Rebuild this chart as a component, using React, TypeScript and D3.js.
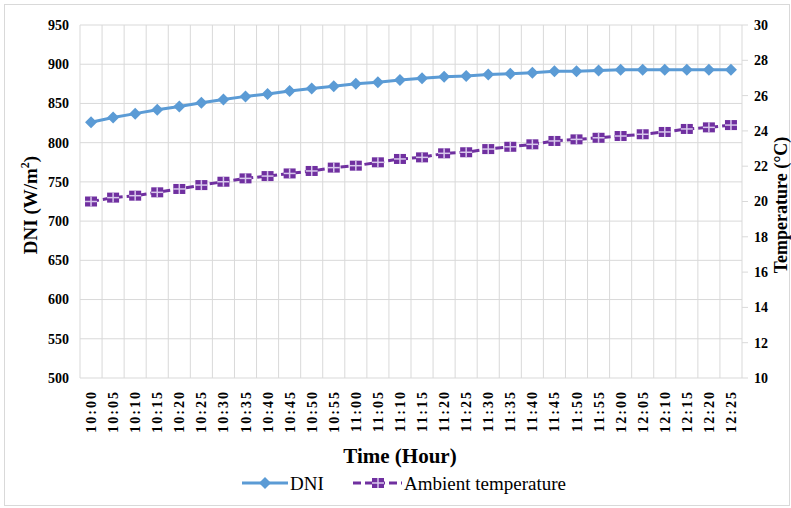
import React from 'react';
import * as d3 from 'd3';

// time of day (x categories)
const times = [
  '10:00', '10:05', '10:10', '10:15', '10:20', '10:25', '10:30', '10:35', '10:40', '10:45',
  '10:50', '10:55', '11:00', '11:05', '11:10', '11:15', '11:20', '11:25', '11:30', '11:35',
  '11:40', '11:45', '11:50', '11:55', '12:00', '12:05', '12:10', '12:15', '12:20', '12:25',
];
// DNI, W/m2 (left axis)
const dni = [
  826, 832, 837, 842, 846, 851, 855, 859, 862, 866,
  869, 872, 875, 877, 880, 882, 884, 885, 887, 888,
  889, 891, 891, 892, 893, 893, 893, 893, 893, 893,
];
// ambient temperature, °C (right axis)
const temp = [
  20.0, 20.22, 20.33, 20.52, 20.71, 20.93, 21.12, 21.31, 21.44, 21.59,
  21.73, 21.92, 22.03, 22.22, 22.41, 22.5, 22.73, 22.79, 22.97, 23.1,
  23.24, 23.43, 23.52, 23.61, 23.71, 23.81, 23.94, 24.11, 24.2, 24.33,
];
const leftTicks = [500, 550, 600, 650, 700, 750, 800, 850, 900, 950];
const rightTicks = [10, 12, 14, 16, 18, 20, 22, 24, 26, 28, 30];

const W = 791, H = 508;
const left = 80, right = 742, top = 25, bottom = 378;
const blue = '#5b9bd5';
const purple = '#7030a0';
const grid = '#d9d9d9';
const serif = '"Liberation Serif", "Times New Roman", serif';

export default function App() {
  const x = d3.scaleBand<string>().domain(times).range([left, right]);
  const yL = d3.scaleLinear().domain([500, 950]).range([bottom, top]);
  const yR = d3.scaleLinear().domain([10, 30]).range([bottom, top]);
  const cx = (t: string) => (x(t) as number) + x.bandwidth() / 2;

  const dniLine = d3.line<number>().x((_, i) => cx(times[i])).y(d => yL(d));
  const tempLine = d3.line<number>().x((_, i) => cx(times[i])).y(d => yR(d));

  const diamond = (px: number, py: number, key?: any) => (
    <path key={key} d={`M${px},${py - 6}L${px + 6},${py}L${px},${py + 6}L${px - 6},${py}Z`} fill={blue} />
  );
  const squarePlus = (px: number, py: number, key?: any) => (
    <g key={key}>
      <rect x={px - 6} y={py - 5} width={12} height={10} fill={purple} />
      <line x1={px - 6} x2={px + 6} y1={py} y2={py} stroke="#d8c8ec" strokeWidth={1.5} />
      <line x1={px} x2={px} y1={py - 5} y2={py + 5} stroke="#d8c8ec" strokeWidth={1.5} />
    </g>
  );

  const bounds = [...times.map(t => x(t) as number), right];

  return (
    <svg width={W} height={H} style={{ position: 'absolute', left: 0, top: 0, background: '#fff' }}
      fontFamily={serif}>
      <rect x={4.5} y={4.5} width={W - 6} height={H - 7} fill="#fff" stroke={grid} />

      {/* gridlines */}
      {leftTicks.map(v => (
        <line key={'h' + v} x1={left} x2={right} y1={yL(v)} y2={yL(v)} stroke={grid} />
      ))}
      {bounds.map((b, i) => (
        <line key={'v' + i} x1={b} x2={b} y1={top} y2={bottom} stroke={grid} />
      ))}
      {rightTicks.map(v => (
        <line key={'rt' + v} x1={right} x2={right + 6} y1={yR(v)} y2={yR(v)} stroke={grid} />
      ))}

      {/* left axis labels */}
      {leftTicks.map(v => (
        <text key={'lt' + v} x={69} y={yL(v)} dy="0.35em" textAnchor="end" fontSize={14}
          fontWeight="bold">{v}</text>
      ))}
      {/* right axis labels */}
      {rightTicks.map(v => (
        <text key={'rl' + v} x={754} y={yR(v)} dy="0.35em" fontSize={14}
          fontWeight="bold">{v}</text>
      ))}
      {/* x labels */}
      {times.map(t => (
        <text key={'x' + t} transform={`translate(${cx(t) + 5},390) rotate(-90)`} textAnchor="end"
          fontSize={14} fontWeight="bold" letterSpacing={2}>{t}</text>
      ))}

      {/* series */}
      <path d={tempLine(temp) || ''} fill="none" stroke={purple} strokeWidth={3} strokeDasharray="8,4" />
      {temp.map((v, i) => squarePlus(cx(times[i]), yR(v), 't' + i))}
      <path d={dniLine(dni) || ''} fill="none" stroke={blue} strokeWidth={3} />
      {dni.map((v, i) => diamond(cx(times[i]), yL(v), 'd' + i))}

      {/* axis titles */}
      <text transform="translate(37,205) rotate(-90)" textAnchor="middle" fontSize={19} fontWeight="bold">
        DNI (W/m<tspan dy={-8} fontSize={12}>2</tspan><tspan dy={8}>)</tspan>
      </text>
      <text transform="translate(787,205) rotate(-90)" textAnchor="middle" fontSize={18} fontWeight="bold">
        Temperature (°C)
      </text>
      <text x={400} y={463} textAnchor="middle" fontSize={21} fontWeight="bold">Time (Hour)</text>

      {/* legend */}
      <line x1={242} x2={288} y1={483} y2={483} stroke={blue} strokeWidth={3} />
      {diamond(265, 483)}
      <text x={290} y={483} dy="0.35em" fontSize={19}>DNI</text>
      <line x1={353} x2={402} y1={483} y2={483} stroke={purple} strokeWidth={3} strokeDasharray="8,4" />
      {squarePlus(378, 483)}
      <text x={404} y={483} dy="0.35em" fontSize={19}>Ambient temperature</text>
    </svg>
  );
}
